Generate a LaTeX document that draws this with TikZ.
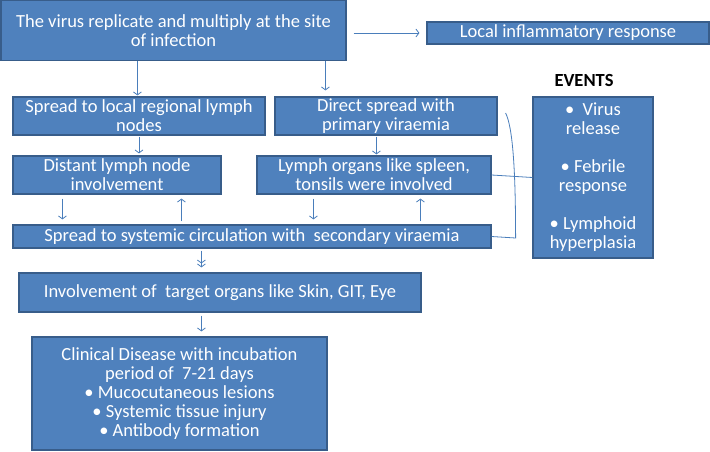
\documentclass[tikz,border=0pt]{standalone}
\usepackage{fontspec}
\setmainfont{Carlito}
\usetikzlibrary{arrows.meta}
\definecolor{boxblue}{HTML}{4F81BD}
\definecolor{boxedge}{HTML}{385D8A}
\definecolor{linkblue}{HTML}{4A7EBB}
\begin{document}
\begin{tikzpicture}[x=1pt,y=-1pt,
    stage/.style={draw=boxedge,fill=boxblue,line width=1.2pt,text=white,align=center,
      inner sep=0pt,font=\fontsize{18.5}{19}\selectfont},
    link/.style={draw=linkblue,line width=0.8pt,-{Straight Barb[length=3pt,width=8pt]}},
    twolink/.style={draw=linkblue,line width=0.8pt,
      -{Straight Barb[length=3pt,width=8pt]Straight Barb[length=3pt,width=8pt]}}]
  \useasboundingbox (0,0) rectangle (710,452);
  \node[stage,minimum width=345,minimum height=60] (site) at (173.5,30.5)
    {The virus replicate and multiply at the site\\of infection};
  \node[stage,minimum width=282,minimum height=22] (inflam) at (568,33)
    {Local inflammatory response};
  \node[stage,minimum width=252,minimum height=38] (regional) at (139,116)
    {Spread to local regional lymph\\nodes};
  \node[stage,minimum width=222,minimum height=38] (direct) at (386,116)
    {Direct spread with\\primary viraemia};
  \node[stage,minimum width=208,minimum height=38] (distant) at (117,175)
    {Distant lymph node\\involvement};
  \node[stage,minimum width=234,minimum height=38] (organs) at (374,175)
    {Lymph organs like spleen,\\tonsils were involved};
  \node[stage,minimum width=478,minimum height=23] (systemic) at (252,236.5)
    {Spread to systemic circulation with\ \ secondary viraemia};
  \node[font=\fontsize{18.5}{19}\selectfont\bfseries] (evtitle) at (584,80) {EVENTS};
  \node[stage,minimum width=120,minimum height=161] (events) at (593,177.5)
    {\textbullet\ \ Virus\\release\\[19pt]\textbullet\ Febrile\\response\\[19pt]\textbullet\ Lymphoid\\hyperplasia};
  \node[stage,minimum width=402,minimum height=39] (target) at (220,292.5)
    {Involvement of\ \ target organs like Skin, GIT, Eye};
  \node[stage,minimum width=295,minimum height=113] (clinical) at (179.5,393.5)
    {Clinical Disease with incubation\\period of\ \ 7-21 days\\\textbullet\ Mucocutaneous lesions\\
     \textbullet\ Systemic tissue injury\\\textbullet\ Antibody formation};
  \draw[link,shorten <=7pt,shorten >=7pt] (site.east |- inflam.west) -- (inflam.west);
  \draw[link,shorten >=1pt] ([xshift=137pt]site.south west) -- ([xshift=137pt]site.south west |- regional.north);
  \draw[link,shorten >=6pt] ([xshift=325pt]site.south west) -- ([xshift=325pt]site.south west |- direct.north);
  \draw[link,shorten <=1pt,shorten >=2pt] (regional.south) -- (regional.south |- distant.north);
  \draw[link,shorten <=1pt,shorten >=1pt] ([xshift=102pt]direct.south west) -- ([xshift=102pt]direct.south west |- organs.north);
  \draw[link,shorten <=4pt,shorten >=5pt] ([xshift=50pt]distant.south west) -- ([xshift=50pt]distant.south west |- systemic.north);
  \draw[link,shorten <=3pt,shorten >=4pt] ([xshift=169pt]systemic.north west) -- ([xshift=169pt]systemic.north west |- distant.south);
  \draw[link,shorten <=4pt,shorten >=5pt] ([xshift=57pt]organs.south west) -- ([xshift=57pt]organs.south west |- systemic.north);
  \draw[link,shorten <=3pt,shorten >=4pt] ([xshift=408pt]systemic.north west) -- ([xshift=408pt]systemic.north west |- organs.south);
  \draw[twolink,shorten <=2pt,shorten >=5pt] ([xshift=189pt]systemic.south west) -- ([xshift=189pt]systemic.south west |- target.north);
  \draw[link,shorten <=3pt,shorten >=5pt] ([xshift=183pt]target.south west) -- ([xshift=183pt]target.south west |- clinical.north);
  \draw[draw=linkblue,line width=0.8pt] (organs.east) -- (events.west);
  \draw[draw=linkblue,line width=0.8pt] ([shift={(8,-3)}]direct.east) .. controls +(7,14) and +(0,-70)
    .. ([shift={(24,1.5)}]systemic.east) -- (systemic.east);
\end{tikzpicture}
\end{document}
